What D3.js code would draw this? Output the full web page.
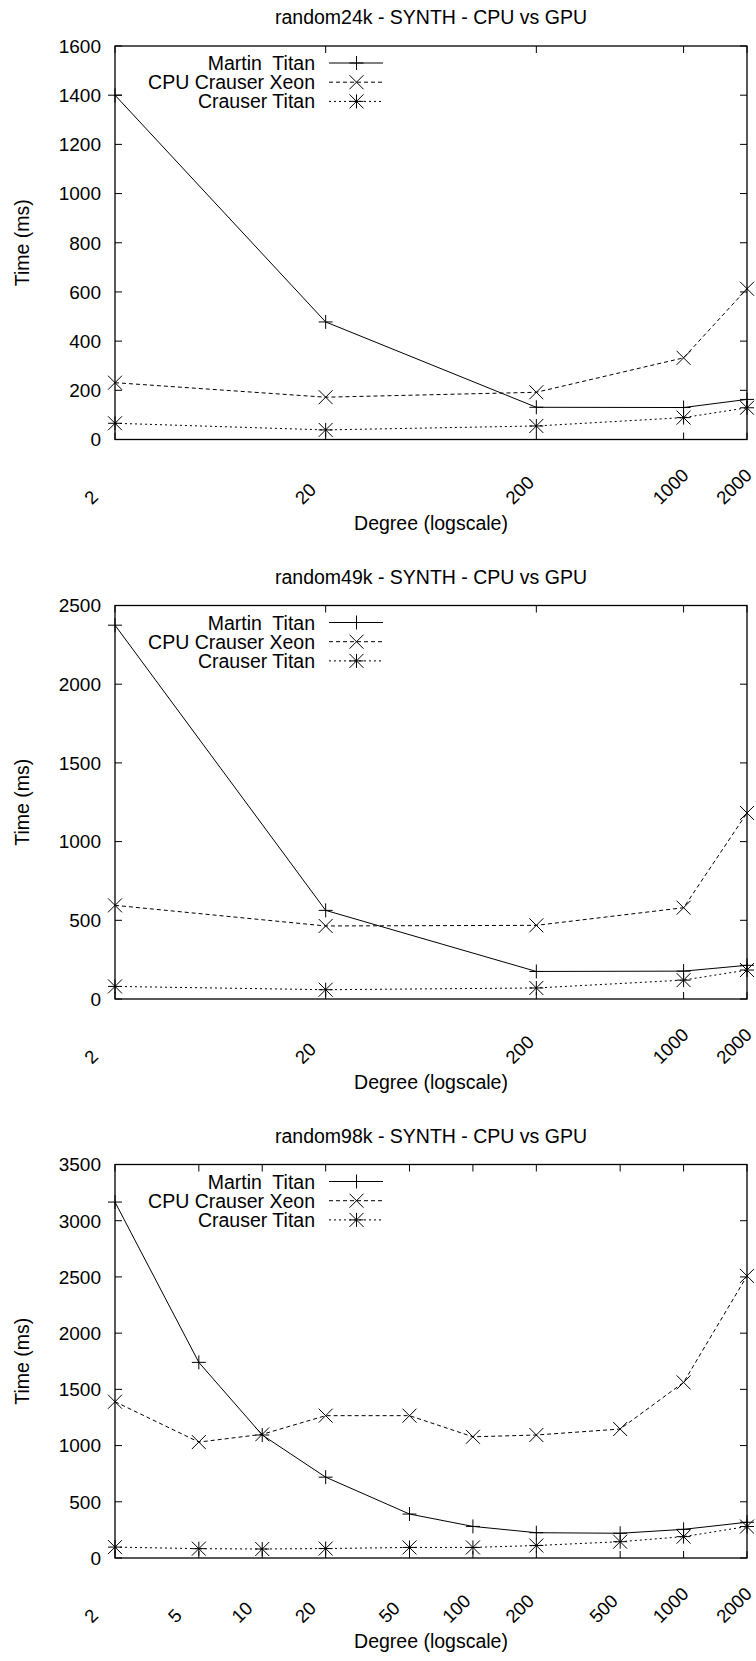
<!DOCTYPE html>
<html>
<head>
<meta charset="utf-8">
<script src="https://cdn.jsdelivr.net/npm/d3@7"></script>
<style>
  body { margin: 0; background: #fff; }
  text { font-family: "Liberation Sans", Arial, Helvetica, sans-serif; fill: #000; white-space: pre; }
</style>
</head>
<body>
<div id="chart"></div>
<script>
// Data
var titles = ['random24k - SYNTH - CPU vs GPU', 'random49k - SYNTH - CPU vs GPU', 'random98k - SYNTH - CPU vs GPU'];
var seriesNames = ['Martin  Titan', 'CPU Crauser Xeon', 'Crauser Titan'];

var degrees24k = [2, 20, 200, 1000, 2000];
var martin24k = [1400, 478, 131, 130, 163];
var xeon24k = [231, 172, 192, 332, 613];
var crauser24k = [66, 39, 55, 89, 129];
var yTicks24k = [0, 200, 400, 600, 800, 1000, 1200, 1400, 1600];

var degrees49k = [2, 20, 200, 1000, 2000];
var martin49k = [2375, 563, 175, 177, 214];
var xeon49k = [595, 464, 468, 580, 1182];
var crauser49k = [80, 59, 70, 120, 184];
var yTicks49k = [0, 500, 1000, 1500, 2000, 2500];

var degrees98k = [2, 5, 10, 20, 50, 100, 200, 500, 1000, 2000];
var martin98k = [3166, 1740, 1094, 719, 391, 281, 225, 220, 255, 318];
var xeon98k = [1390, 1031, 1100, 1266, 1266, 1078, 1094, 1147, 1562, 2509];
var crauser98k = [97, 83, 80, 84, 94, 94, 111, 145, 190, 280];
var yTicks98k = [0, 500, 1000, 1500, 2000, 2500, 3000, 3500];

var svgWidth = 756;
var svgHeight = 1661;

var svg = d3.select('#chart')
            .append('svg')
            .attr('width', svgWidth)
            .attr('height', svgHeight)
            .attr('viewBox', '0 0 ' + svgWidth + ' ' + svgHeight);

var left = 115, right = 747;
var plotHeight = 393.5;

var dashes = [null, '4,3', '2,3'];

function drawMarker(g, type, x, y) {
    var s = 7, p = '';
    if (type === 0 || type === 2) p += 'M' + (x - s) + ',' + y + 'H' + (x + s) + 'M' + x + ',' + (y - s) + 'V' + (y + s);
    if (type === 1 || type === 2) p += 'M' + (x - s) + ',' + (y - s) + 'L' + (x + s) + ',' + (y + s) + 'M' + (x - s) + ',' + (y + s) + 'L' + (x + s) + ',' + (y - s);
    g.append('path').attr('d', p).attr('stroke', '#000').attr('stroke-width', 1).attr('fill', 'none');
}

function drawChart(top, title, degrees, series, yTicks) {
    var bottom = top + plotHeight;
    var g = svg.append('g');

    var xScale = d3.scaleLog().domain([2, 2000]).range([left, right]);
    var yScale = d3.scaleLinear().domain([0, yTicks[yTicks.length - 1]]).range([bottom, top]);

    // Title
    g.append('text')
        .attr('x', (left + right) / 2)
        .attr('y', top - 22)
        .style('text-anchor', 'middle')
        .style('font-size', '19.5px')
        .text(title);

    // Y ticks, mirrored on the right
    yTicks.forEach(function (t) {
        var y = yScale(t);
        g.append('line').attr('x1', left).attr('x2', left + 7).attr('y1', y).attr('y2', y).attr('stroke', '#000');
        g.append('line').attr('x1', right).attr('x2', right - 7).attr('y1', y).attr('y2', y).attr('stroke', '#000');
        g.append('text')
            .attr('x', left - 14)
            .attr('y', y)
            .attr('dy', '0.36em')
            .style('text-anchor', 'end')
            .style('font-size', '19px')
            .text(t);
    });

    // X ticks, mirrored on top, labels rotated
    degrees.forEach(function (t) {
        var x = xScale(t);
        g.append('line').attr('x1', x).attr('x2', x).attr('y1', bottom).attr('y2', bottom - 7).attr('stroke', '#000');
        g.append('line').attr('x1', x).attr('x2', x).attr('y1', top).attr('y2', top + 7).attr('stroke', '#000');
        g.append('text')
            .attr('transform', 'translate(' + (x - 23) + ',' + (bottom + 66) + ') rotate(-45)')
            .style('text-anchor', 'start')
            .style('font-size', '18.5px')
            .text(t);
    });

    // Frame
    g.append('rect')
        .attr('x', left).attr('y', top)
        .attr('width', right - left).attr('height', plotHeight)
        .attr('fill', 'none').attr('stroke', '#000').attr('stroke-width', 1.3);

    // Lines + markers
    series.forEach(function (vals, i) {
        var line = d3.line()
            .x(function (d, j) { return xScale(degrees[j]); })
            .y(function (d) { return yScale(d); });
        g.append('path')
            .datum(vals)
            .attr('d', line)
            .attr('fill', 'none')
            .attr('stroke', '#000')
            .attr('stroke-width', 1)
            .attr('stroke-dasharray', dashes[i]);
        vals.forEach(function (v, j) {
            drawMarker(g, i, xScale(degrees[j]), yScale(v));
        });
    });

    // Legend
    seriesNames.forEach(function (name, i) {
        var ly = top + 17 + i * 19.2;
        g.append('text')
            .attr('x', 315)
            .attr('y', ly)
            .attr('dy', '0.36em')
            .style('text-anchor', 'end')
            .style('font-size', '19.5px')
            .text(name);
        g.append('line')
            .attr('x1', 329).attr('x2', 383).attr('y1', ly).attr('y2', ly)
            .attr('stroke', '#000').attr('stroke-width', 1)
            .attr('stroke-dasharray', dashes[i]);
        drawMarker(g, i, 356.5, ly);
    });

    // Axis titles
    g.append('text')
        .attr('x', (left + right) / 2)
        .attr('y', bottom + 90)
        .style('text-anchor', 'middle')
        .style('font-size', '19.5px')
        .text('Degree (logscale)');

    g.append('text')
        .attr('transform', 'rotate(-90)')
        .attr('x', -(top + bottom) / 2)
        .attr('y', 29)
        .style('text-anchor', 'middle')
        .style('font-size', '19.5px')
        .text('Time (ms)');
}

drawChart(46, titles[0], degrees24k, [martin24k, xeon24k, crauser24k], yTicks24k);
drawChart(605.5, titles[1], degrees49k, [martin49k, xeon49k, crauser49k], yTicks49k);
drawChart(1164.5, titles[2], degrees98k, [martin98k, xeon98k, crauser98k], yTicks98k);
</script>
</body>
</html>
